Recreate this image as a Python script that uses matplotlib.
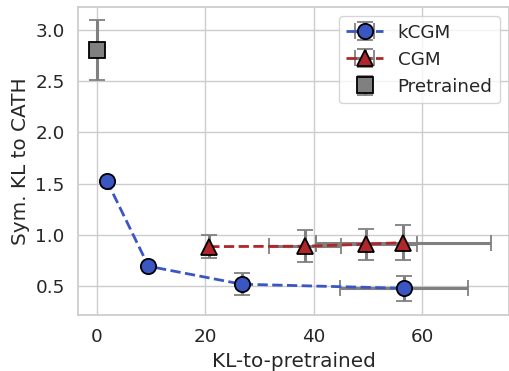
import matplotlib
matplotlib.use("Agg")
import matplotlib.pyplot as plt
import seaborn as sns

sns.set_theme(style="whitegrid", font_scale=1.2)
plt.rcParams['font.family'] = ['DejaVu Sans']

# kCGM
kcgm_x = [1.8, 9.5, 26.7, 56.7]
kcgm_y = [1.53, 0.695, 0.52, 0.48]
kcgm_xerr = [0.0, 0.0, 0.0, 11.8]
kcgm_yerr = [0.0, 0.0, 0.11, 0.12]

# CGM
cgm_x = [20.7, 38.4, 49.7, 56.5]
cgm_y = [0.886, 0.89, 0.91, 0.925]
cgm_xerr = [0.0, 6.6, 9.3, 16.1]
cgm_yerr = [0.11, 0.155, 0.15, 0.17]

# Pretrained
pre_x = [0.0]
pre_y = [2.80]
pre_yerr = [0.29]

fig = plt.figure(figsize=(5.10, 3.71), dpi=100)
ax = fig.add_axes([78/510, 1 - 315/371, (509-78)/510, (315-7)/371])

ekw = dict(ecolor='gray', elinewidth=2.2, capsize=6, capthick=1.5)
ax.errorbar(kcgm_x, kcgm_y, xerr=kcgm_xerr, yerr=kcgm_yerr, fmt='o--',
            color='#3a56c2', mec='black', mew=1.3, ms=11, lw=2, label='kCGM', **ekw)
ax.errorbar(cgm_x, cgm_y, xerr=cgm_xerr, yerr=cgm_yerr, fmt='^--',
            color='#b0262a', mec='black', mew=1.3, ms=12, lw=2, label='CGM', **ekw)
ax.errorbar(pre_x, pre_y, yerr=pre_yerr, fmt='s', color='gray',
            mec='black', mew=1.3, ms=11, label='Pretrained', **ekw)

ax.set_xlim(-3.5, 76)
ax.set_ylim(0.22, 3.22)
ax.set_xticks([0, 20, 40, 60])
ax.set_yticks([0.5, 1.0, 1.5, 2.0, 2.5, 3.0])
ax.set_xlabel('KL-to-pretrained')
ax.set_ylabel('Sym. KL to CATH')
ax.legend(loc='upper right')

fig.savefig('out.png', dpi=100)
